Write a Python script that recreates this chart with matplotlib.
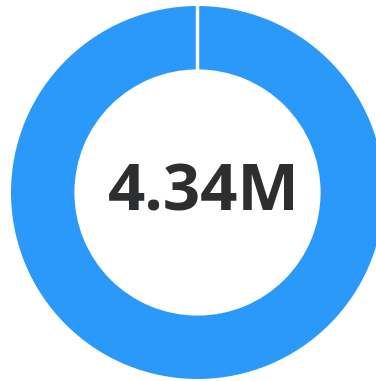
import matplotlib.pyplot as plt

# single-series donut
labels = ["Total"]
values = [4.34]  # millions
colors = ["#2b99fa"]
center_label = "4.34M"

W, H = 376, 381
fig = plt.figure(figsize=(W / 100, H / 100), dpi=100)

# donut centre at (197.5, 192.5) px, outer radius ~186.5 px
cx, cy, r = 197.5, 192.5, 186.5
ax = fig.add_axes([(cx - r) / W, (H - cy - r) / H, 2 * r / W, 2 * r / H])

ring = 0.34
ax.pie(values, labels=None, colors=colors, startangle=90, counterclock=False,
       radius=1.0, wedgeprops=dict(width=ring, edgecolor="none"))
# white seam where the slice starts/ends
ax.plot([0, 0], [1 - ring - 0.01, 1.01], color="white", lw=2.5, solid_capstyle="butt")
ax.set_xlim(-1, 1)
ax.set_ylim(-1, 1)
ax.set_aspect("equal")
ax.axis("off")

fig.text(203.5 / W, (H - 186) / H, center_label, ha="center", va="center_baseline",
         fontsize=47, fontfamily="Open Sans", fontweight="bold", color="#2d2e30")

fig.savefig("out.png", dpi=100)
